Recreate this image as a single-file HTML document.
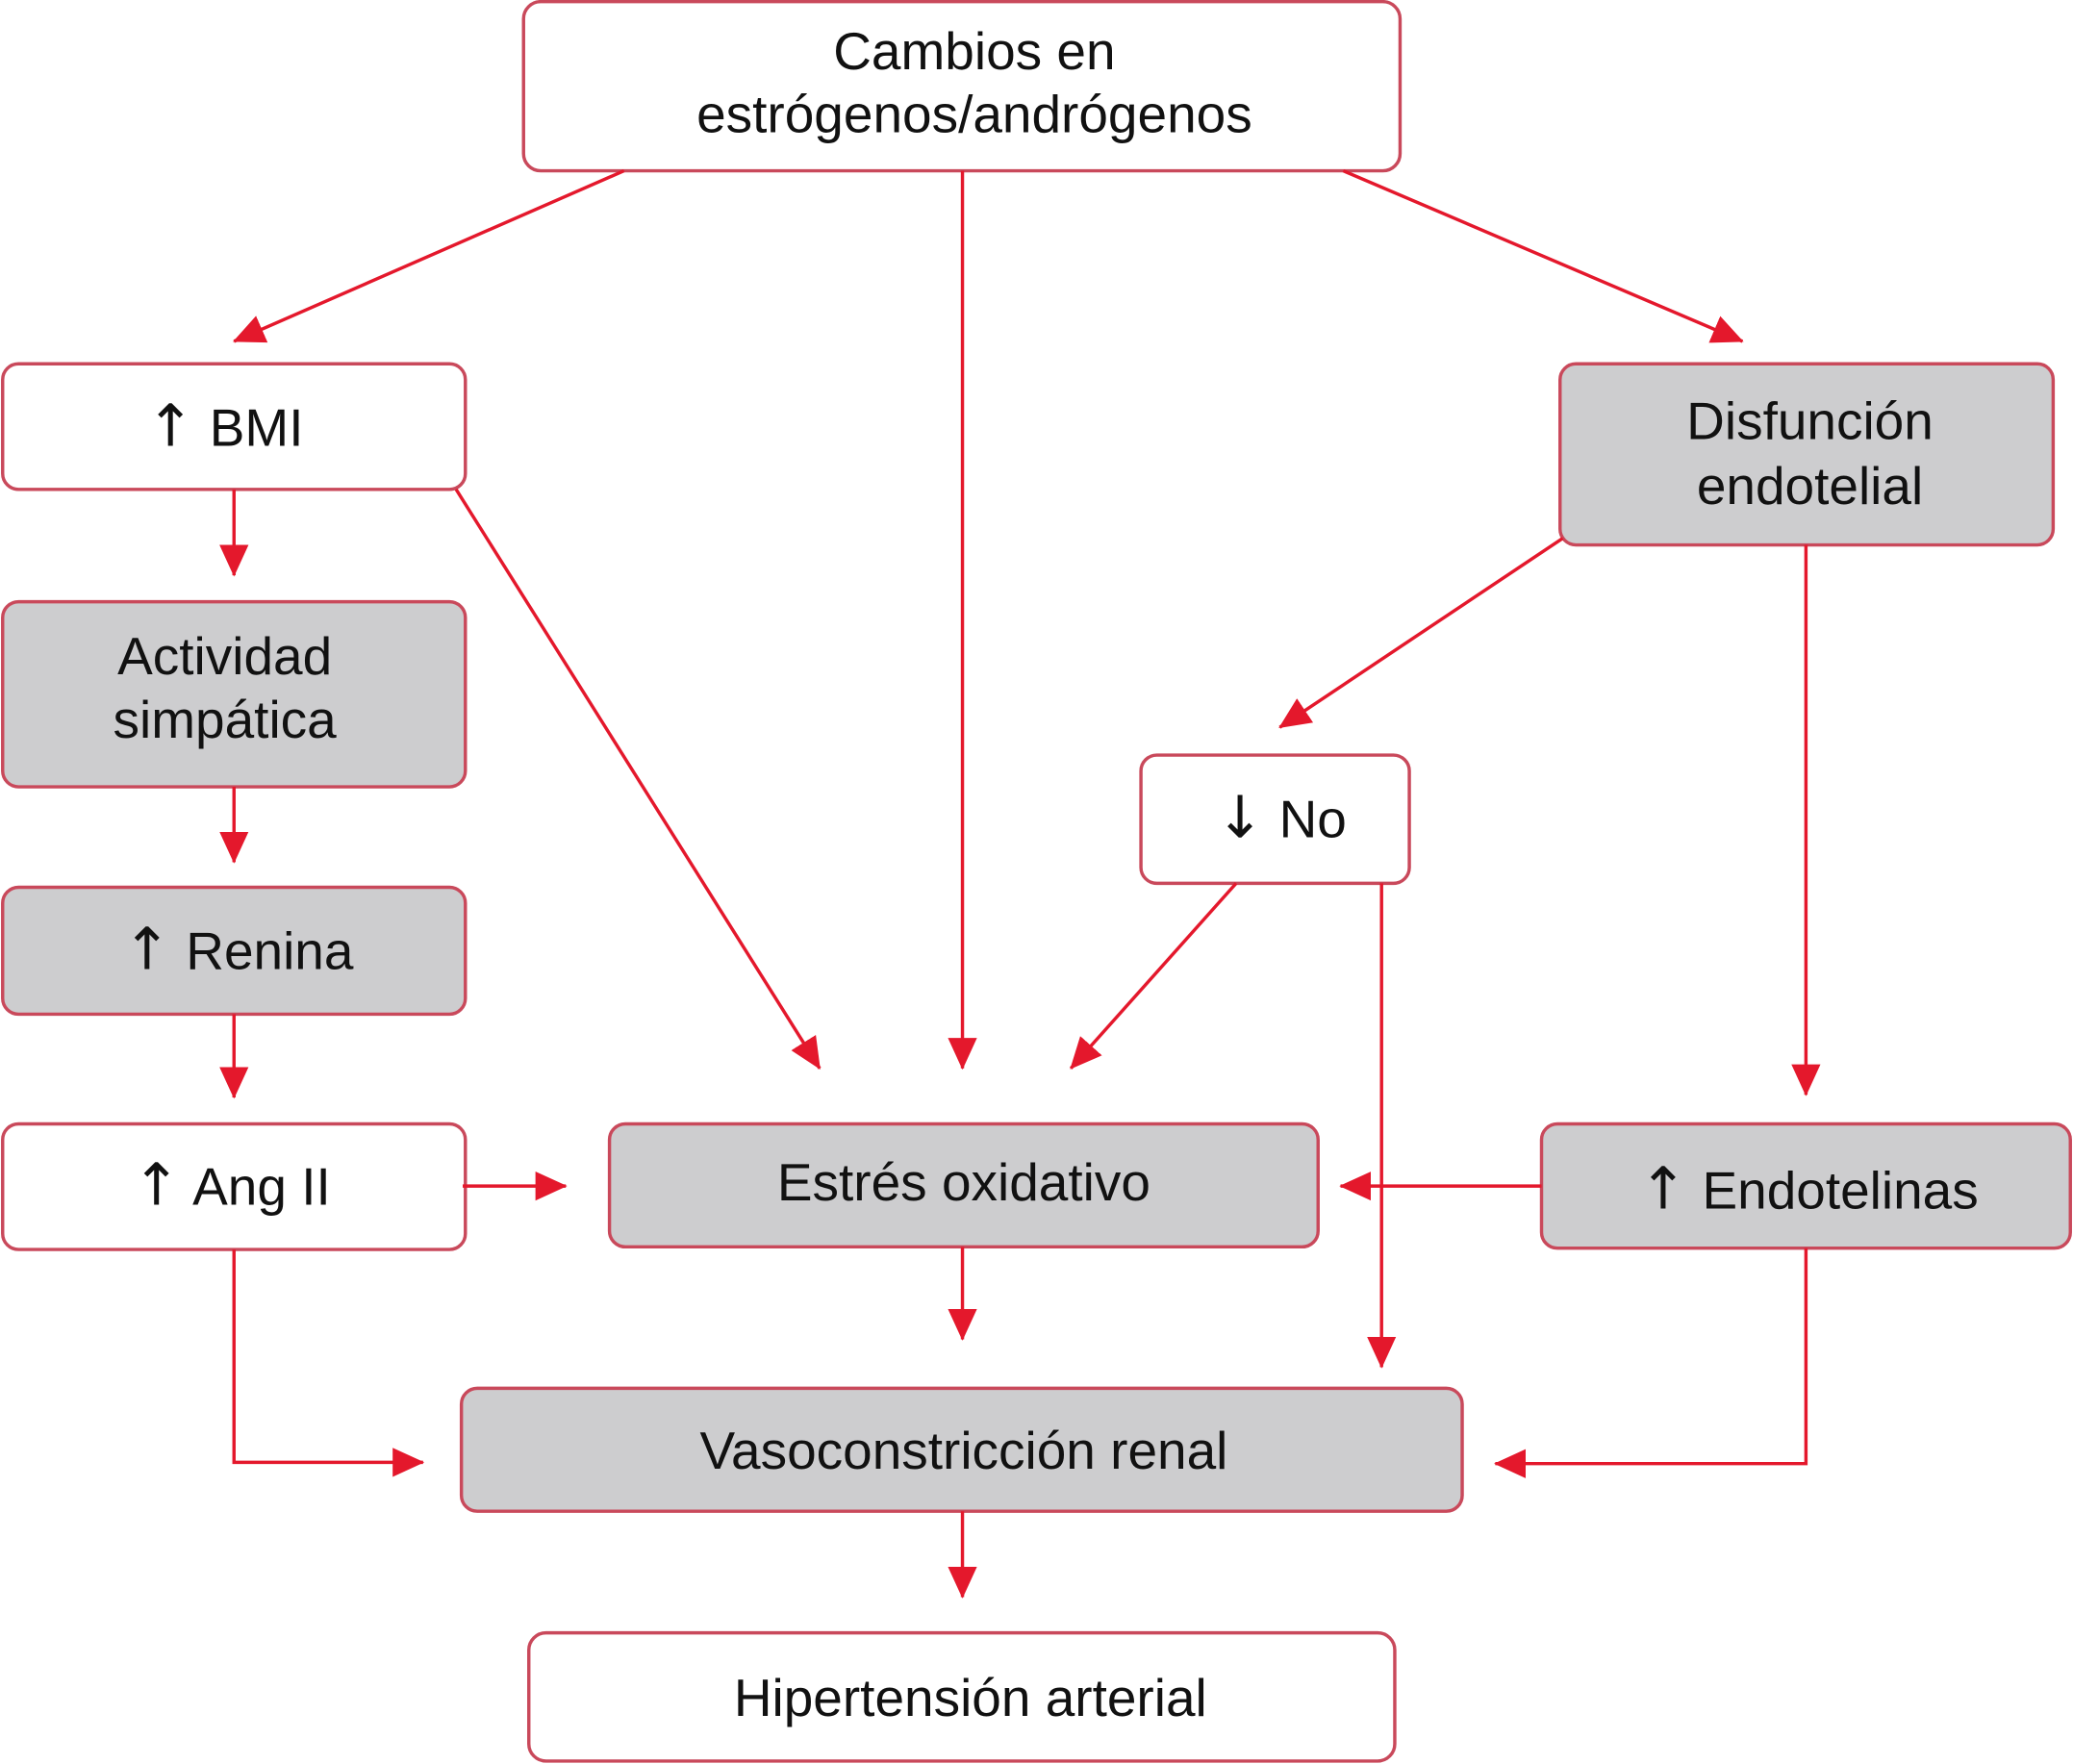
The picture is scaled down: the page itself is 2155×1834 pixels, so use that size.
<!DOCTYPE html>
<html><head><meta charset="utf-8"><style>
html,body{margin:0;padding:0;background:#fff;}
svg{display:block;}
text{font-family:"Liberation Sans",Arial,sans-serif;font-size:40px;fill:#111;text-anchor:middle;}
.ar{font-family:"DejaVu Sans",sans-serif;font-size:44px;}
</style></head><body>
<svg width="2155" height="1834" viewBox="0 0 1568 1334" xmlns="http://www.w3.org/2000/svg">
<defs>
<marker id="a" markerWidth="24" markerHeight="24" viewBox="0 0 24 24" refX="23" refY="12" orient="auto" markerUnits="userSpaceOnUse">
<path d="M0,1 L24,12 L0,23 Z" fill="#e4182c"/>
</marker>
</defs>
<g fill="#fff" stroke="#c9495b" stroke-width="2.5">
<rect x="396" y="1" width="663" height="128" rx="13"/>
<rect x="2" y="275" width="350" height="95" rx="12"/>
<rect x="2" y="455" width="350" height="140" rx="12" fill="#cdcdcf"/>
<rect x="2" y="671" width="350" height="96" rx="12" fill="#cdcdcf"/>
<rect x="2" y="850" width="350" height="95" rx="12"/>
<rect x="461" y="850" width="536" height="93" rx="12" fill="#cdcdcf"/>
<rect x="349" y="1050" width="757" height="93" rx="12" fill="#cdcdcf"/>
<rect x="400" y="1235" width="655" height="97" rx="13"/>
<rect x="1180" y="275" width="373" height="137" rx="12" fill="#cdcdcf"/>
<rect x="863" y="571" width="203" height="97" rx="12"/>
<rect x="1166" y="850" width="400" height="94" rx="12" fill="#cdcdcf"/>
</g>
<g stroke="#e4182c" stroke-width="2.5" fill="none" marker-end="url(#a)">
<line x1="472" y1="129" x2="177" y2="258"/>
<line x1="728" y1="129" x2="728" y2="808"/>
<line x1="1016" y1="129" x2="1318" y2="258"/>
<line x1="177" y1="370" x2="177" y2="435"/>
<line x1="177" y1="595" x2="177" y2="652"/>
<line x1="177" y1="767" x2="177" y2="830"/>
<line x1="345" y1="370" x2="620" y2="808"/>
<line x1="935" y1="668" x2="810" y2="808"/>
<line x1="1182" y1="407" x2="968" y2="550"/>
<line x1="1366" y1="412" x2="1366" y2="828"/>
<line x1="1045" y1="668" x2="1045" y2="1034"/>
<line x1="350" y1="897" x2="428" y2="897"/>
<line x1="1166" y1="897" x2="1014" y2="897"/>
<line x1="728" y1="943" x2="728" y2="1013"/>
<polyline points="177,945 177,1106 320,1106"/>
<polyline points="1366,944 1366,1107 1131,1107"/>
<line x1="728" y1="1143" x2="728" y2="1208"/>
</g>
<text x="737" y="52">Cambios en</text>
<text x="737" y="100">estrógenos/andrógenos</text>
<text x="170" y="337"><tspan class="ar">↑</tspan> BMI</text>
<text x="170" y="510">Actividad</text>
<text x="170" y="558">simpática</text>
<text x="180" y="733"><tspan class="ar">↑</tspan> Renina</text>
<text x="175" y="911"><tspan class="ar">↑</tspan> Ang II</text>
<text x="729" y="908">Estrés oxidativo</text>
<text x="729" y="1111">Vasoconstricción renal</text>
<text x="734" y="1298">Hipertensión arterial</text>
<text x="1369" y="332">Disfunción</text>
<text x="1369" y="381">endotelial</text>
<text x="969" y="633"><tspan class="ar">↓</tspan> No</text>
<text x="1368" y="914"><tspan class="ar">↑</tspan> Endotelinas</text>
</svg>
</body></html>
